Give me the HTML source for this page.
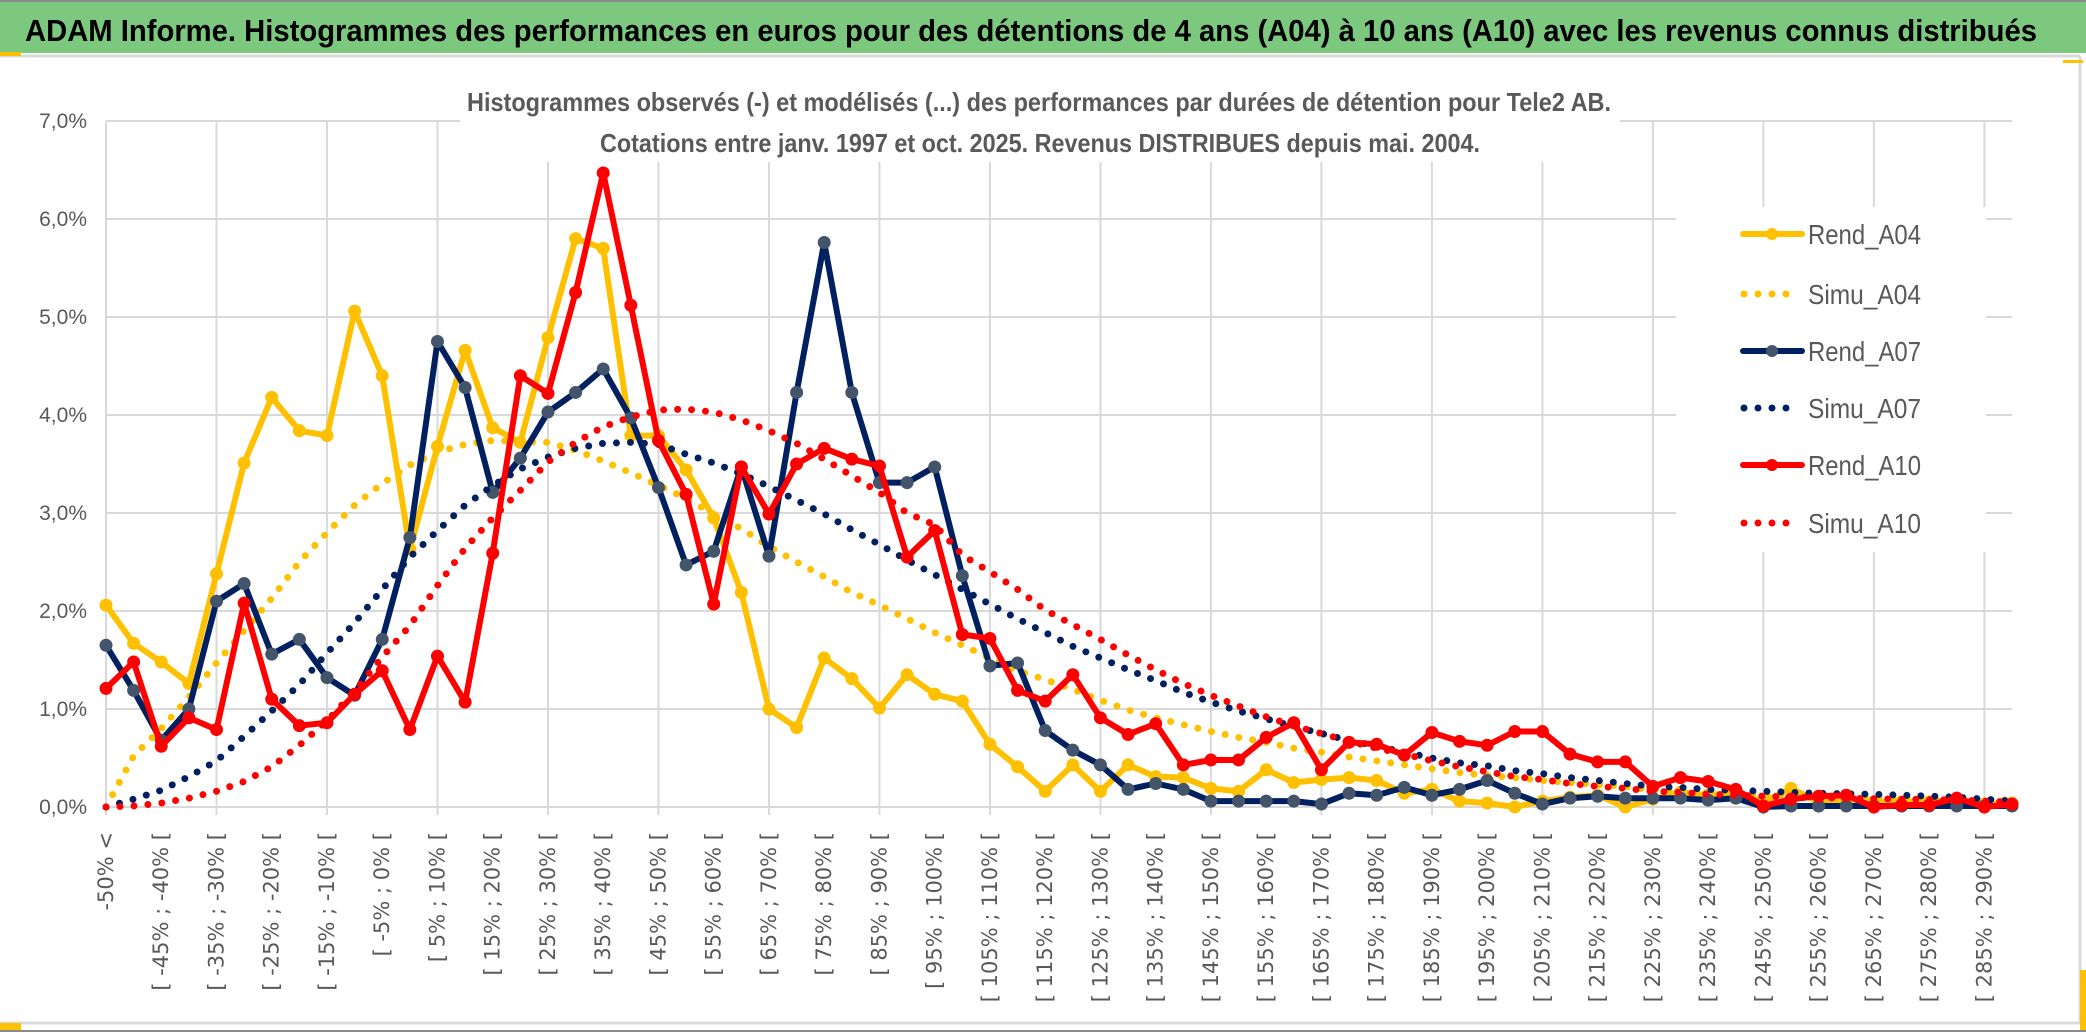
<!DOCTYPE html>
<html><head><meta charset="utf-8"><title>ADAM Informe - Tele2 AB</title>
<style>
html,body{margin:0;padding:0;background:#fff;}
svg{display:block;}
</style></head>
<body>
<svg id="chart" width="2086" height="1033" viewBox="0 0 2086 1033" xmlns="http://www.w3.org/2000/svg">
  <rect x="0" y="0" width="2086" height="1033" fill="#fff"/>
  <rect x="0" y="2" width="2086" height="51" fill="#7DC87F"/>
  <line x1="0" y1="1" x2="2086" y2="1" stroke="#8a8a8a" stroke-width="2"/>
  <text x="25" y="41" font-family="'Liberation Sans Narrow','Liberation Sans',sans-serif" font-weight="bold" font-size="31" fill="#000" textLength="2012" lengthAdjust="spacingAndGlyphs">ADAM Informe. Histogrammes des performances en euros pour des détentions de 4 ans (A04) à 10 ans (A10) avec les revenus connus distribués</text>
  <line x1="0" y1="56" x2="2080" y2="56" stroke="#d9d9d9" stroke-width="3"/>
  <line x1="0" y1="1023" x2="2080" y2="1023" stroke="#d9d9d9" stroke-width="3"/>
  <line x1="2080" y1="56" x2="2080" y2="1023" stroke="#d9d9d9" stroke-width="3"/>
  <line x1="0" y1="1031" x2="2086" y2="1031" stroke="#8a8a8a" stroke-width="2"/>
  <rect x="0" y="52" width="21" height="4" fill="#FFC000"/>
  <rect x="0" y="1023" width="21" height="7" fill="#FFC000"/>
  <rect x="2063" y="60" width="20" height="3" fill="#FFC000"/>
  <rect x="2080" y="970" width="6" height="60" fill="#FFC000"/>
  <g id="grid"></g>
  <rect x="460" y="84" width="1160" height="78" fill="#fff"/>
  <text x="467" y="111" font-family="'Liberation Sans Narrow','Liberation Sans',sans-serif" font-weight="bold" font-size="26" fill="#595959" textLength="1144" lengthAdjust="spacingAndGlyphs">Histogrammes observés (-) et modélisés (...) des performances par durées de détention pour Tele2 AB.</text>
  <text x="600" y="152" font-family="'Liberation Sans Narrow','Liberation Sans',sans-serif" font-weight="bold" font-size="26" fill="#595959" textLength="880" lengthAdjust="spacingAndGlyphs">Cotations entre janv. 1997 et oct. 2025. Revenus DISTRIBUES depuis mai. 2004.</text>
  <rect x="1676" y="207" width="310" height="345" fill="#fff"/>
  <g id="series"></g>
  <g id="legend"></g>
</svg>
<script>
const categories = ["-50% <","[ -50% ; -45% [","[ -45% ; -40% [","[ -40% ; -35% [","[ -35% ; -30% [","[ -30% ; -25% [","[ -25% ; -20% [","[ -20% ; -15% [","[ -15% ; -10% [","[ -10% ; -5% [","[ -5% ; 0% [","[ 0% ; 5% [","[ 5% ; 10% [","[ 10% ; 15% [","[ 15% ; 20% [","[ 20% ; 25% [","[ 25% ; 30% [","[ 30% ; 35% [","[ 35% ; 40% [","[ 40% ; 45% [","[ 45% ; 50% [","[ 50% ; 55% [","[ 55% ; 60% [","[ 60% ; 65% [","[ 65% ; 70% [","[ 70% ; 75% [","[ 75% ; 80% [","[ 80% ; 85% [","[ 85% ; 90% [","[ 90% ; 95% [","[ 95% ; 100% [","[ 100% ; 105% [","[ 105% ; 110% [","[ 110% ; 115% [","[ 115% ; 120% [","[ 120% ; 125% [","[ 125% ; 130% [","[ 130% ; 135% [","[ 135% ; 140% [","[ 140% ; 145% [","[ 145% ; 150% [","[ 150% ; 155% [","[ 155% ; 160% [","[ 160% ; 165% [","[ 165% ; 170% [","[ 170% ; 175% [","[ 175% ; 180% [","[ 180% ; 185% [","[ 185% ; 190% [","[ 190% ; 195% [","[ 195% ; 200% [","[ 200% ; 205% [","[ 205% ; 210% [","[ 210% ; 215% [","[ 215% ; 220% [","[ 220% ; 225% [","[ 225% ; 230% [","[ 230% ; 235% [","[ 235% ; 240% [","[ 240% ; 245% [","[ 245% ; 250% [","[ 250% ; 255% [","[ 255% ; 260% [","[ 260% ; 265% [","[ 265% ; 270% [","[ 270% ; 275% [","[ 275% ; 280% [","[ 280% ; 285% [","[ 285% ; 290% [","[ 290% ; 295% ["];
const rendA04 = [2.06,1.67,1.48,1.26,2.38,3.51,4.18,3.84,3.79,5.06,4.40,2.63,3.68,4.66,3.87,3.72,4.79,5.80,5.70,3.79,3.79,3.44,2.95,2.19,1.00,0.81,1.52,1.31,1.01,1.35,1.15,1.08,0.64,0.41,0.16,0.43,0.16,0.43,0.31,0.30,0.19,0.16,0.38,0.25,0.28,0.30,0.27,0.14,0.18,0.06,0.04,0.00,0.06,0.10,0.12,0.00,0.08,0.15,0.12,0.15,0.05,0.19,0.05,0.08,0.05,0.05,0.05,0.08,0.03,0.04];
const simuA04 = [0.00,0.52,0.80,1.12,1.47,1.80,2.13,2.50,2.80,3.08,3.30,3.49,3.62,3.70,3.74,3.73,3.72,3.64,3.53,3.41,3.28,3.15,2.99,2.84,2.66,2.50,2.35,2.19,2.06,1.92,1.78,1.65,1.52,1.39,1.30,1.20,1.09,0.99,0.91,0.84,0.77,0.71,0.66,0.60,0.56,0.51,0.47,0.43,0.39,0.35,0.32,0.30,0.27,0.25,0.23,0.21,0.17,0.16,0.15,0.14,0.13,0.12,0.115,0.11,0.10,0.09,0.085,0.08,0.075,0.07];
const rendA07 = [1.65,1.19,0.68,1.00,2.10,2.28,1.56,1.71,1.32,1.14,1.71,2.75,4.75,4.28,3.21,3.56,4.03,4.23,4.47,3.97,3.26,2.47,2.61,3.47,2.56,4.23,5.76,4.23,3.31,3.31,3.47,2.36,1.44,1.47,0.78,0.58,0.43,0.18,0.24,0.18,0.06,0.06,0.06,0.06,0.03,0.14,0.12,0.20,0.12,0.18,0.27,0.14,0.03,0.09,0.11,0.09,0.09,0.09,0.07,0.09,0.00,0.01,0.01,0.01,0.01,0.01,0.01,0.01,0.01,0.01];
const simuA07 = [0.00,0.08,0.17,0.31,0.47,0.72,0.98,1.25,1.57,1.88,2.22,2.55,2.82,3.08,3.28,3.45,3.57,3.66,3.71,3.72,3.70,3.60,3.51,3.40,3.27,3.13,2.99,2.83,2.68,2.52,2.37,2.22,2.07,1.92,1.78,1.64,1.52,1.40,1.29,1.17,1.07,0.98,0.90,0.82,0.75,0.68,0.62,0.56,0.50,0.45,0.42,0.37,0.34,0.30,0.27,0.24,0.21,0.20,0.18,0.17,0.16,0.15,0.14,0.135,0.13,0.12,0.11,0.10,0.08,0.06];
const rendA10 = [1.21,1.48,0.62,0.91,0.79,2.08,1.10,0.83,0.86,1.15,1.39,0.79,1.54,1.07,2.59,4.40,4.22,5.25,6.47,5.12,3.74,3.19,2.07,3.47,2.99,3.50,3.66,3.55,3.48,2.55,2.82,1.76,1.72,1.19,1.08,1.35,0.91,0.74,0.85,0.43,0.48,0.48,0.71,0.86,0.38,0.66,0.64,0.53,0.76,0.67,0.63,0.77,0.77,0.54,0.46,0.46,0.21,0.30,0.26,0.18,0.01,0.08,0.11,0.12,0.00,0.02,0.02,0.09,0.00,0.03];
const simuA10 = [0.00,0.01,0.04,0.09,0.16,0.26,0.41,0.63,0.88,1.18,1.53,1.85,2.26,2.64,2.95,3.23,3.52,3.72,3.88,3.98,4.05,4.06,4.03,3.95,3.84,3.71,3.55,3.38,3.21,3.00,2.88,2.57,2.40,2.22,2.01,1.86,1.71,1.55,1.40,1.26,1.14,1.03,0.92,0.83,0.75,0.67,0.60,0.54,0.47,0.41,0.36,0.31,0.28,0.24,0.21,0.19,0.16,0.15,0.13,0.12,0.11,0.10,0.095,0.09,0.085,0.08,0.075,0.07,0.06,0.05];
const yTicks = [0,1,2,3,4,5,6,7];
const yTickLabels = ["0,0%","1,0%","2,0%","3,0%","4,0%","5,0%","6,0%","7,0%"];
const seriesNames = ["Rend_A04","Simu_A04","Rend_A07","Simu_A07","Rend_A10","Simu_A10"];

const NS = "http://www.w3.org/2000/svg";
const X0 = 106, X1 = 2012, Y0 = 807, PX_PER_PCT = 98;
function xScale(i){ return X0 + (X1 - X0) * i / (categories.length - 1); }
function yScale(v){ return Y0 - v * PX_PER_PCT; }
function mk(tag, attrs, parent){
  const e = document.createElementNS(NS, tag);
  for (const k in attrs) e.setAttribute(k, attrs[k]);
  parent.appendChild(e);
  return e;
}
const grid = document.getElementById('grid');
const yTop = yScale(yTicks[yTicks.length-1]);
// vertical gridlines every 4 categories
for (let i = 0; i < categories.length; i += 4) {
  const l = mk('line', {x1:xScale(i), x2:xScale(i), y1:yTop, y2:Y0+8, stroke:'#d9d9d9', 'stroke-width':2}, grid);
  
  
}
yTicks.forEach((t, k) => {
  const l = mk('line', {x1:X0, x2:X1, y1:yScale(t), y2:yScale(t), stroke:'#d9d9d9', 'stroke-width':2}, grid);
  
  
  const tx = mk('text', {x:87, y:yScale(t)+7, 'text-anchor':'end', 'font-family':"'Liberation Sans Narrow','Liberation Sans',sans-serif", 'font-size':21, fill:'#595959'}, grid);
  tx.textContent = yTickLabels[k];
  
  
});
// category labels, every other category
for (let i = 0; i < categories.length; i += 2) {
  const cx = xScale(i) + 7, cy = 832;
  const tx = mk('text', {x:cx, y:cy, transform:'rotate(-90 '+cx+' '+cy+')', 'text-anchor':'end', 'font-family':"'DejaVu Sans',sans-serif", 'font-size':21, fill:'#595959'}, grid);
  tx.textContent = categories[i];
  
  
}

const seriesGroup = document.getElementById('series');
function pathD(vals){ return vals.map((v,i)=>(i?'L':'M')+xScale(i).toFixed(1)+' '+yScale(v).toFixed(1)).join(' '); }
function drawRend(vals, color, markerColor, name){
  const g = mk('g', {}, seriesGroup);
  
  
  const p = mk('path', {d:pathD(vals), fill:'none', stroke:color, 'stroke-width':6, 'stroke-linejoin':'round', 'stroke-linecap':'round'}, g);
  
  
  vals.forEach((v,i) => {
    const c = mk('circle', {cx:xScale(i), cy:yScale(v), r:6.5, fill:markerColor}, g);
    
    
  });
}
function drawSimu(vals, color, name){
  const p = mk('path', {d:pathD(vals), fill:'none', stroke:color, 'stroke-width':7, 'stroke-linecap':'round', 'stroke-dasharray':'0 14'}, seriesGroup);
  
  
}
drawRend(rendA04, '#FFC000', '#FFC000', 'rend-a04-series');
drawSimu(simuA04, '#FFC000', 'simu-a04-series');
drawRend(rendA07, '#002060', '#44546A', 'rend-a07-series');
drawSimu(simuA07, '#002060', 'simu-a07-series');
drawRend(rendA10, '#FF0000', '#FF0000', 'rend-a10-series');
drawSimu(simuA10, '#FF0000', 'simu-a10-series');

// legend
const legend = document.getElementById('legend');


const legendColors = ['#FFC000','#FFC000','#002060','#002060','#FF0000','#FF0000'];
const legendMarkers = ['#FFC000',null,'#44546A',null,'#FF0000',null];
const legendY = [234,294,351,408,465,523];
seriesNames.forEach((n, k) => {
  const y = legendY[k];
  const g = mk('g', {}, legend);
  
  
  if (legendMarkers[k]) {
    mk('line', {x1:1743, x2:1802, y1:y, y2:y, stroke:legendColors[k], 'stroke-width':6, 'stroke-linecap':'round'}, g);
    mk('circle', {cx:1772, cy:y, r:6, fill:legendMarkers[k]}, g);
  } else {
    mk('line', {x1:1744, x2:1800, y1:y, y2:y, stroke:legendColors[k], 'stroke-width':7, 'stroke-linecap':'round', 'stroke-dasharray':'0 14'}, g);
  }
  const t = mk('text', {x:1808, y:y+10, 'font-family':"'Liberation Sans Narrow','Liberation Sans',sans-serif", 'font-size':28, fill:'#595959', textLength:113, lengthAdjust:'spacingAndGlyphs'}, g);
  t.textContent = n;
  
  
});
</script>
</body></html>
